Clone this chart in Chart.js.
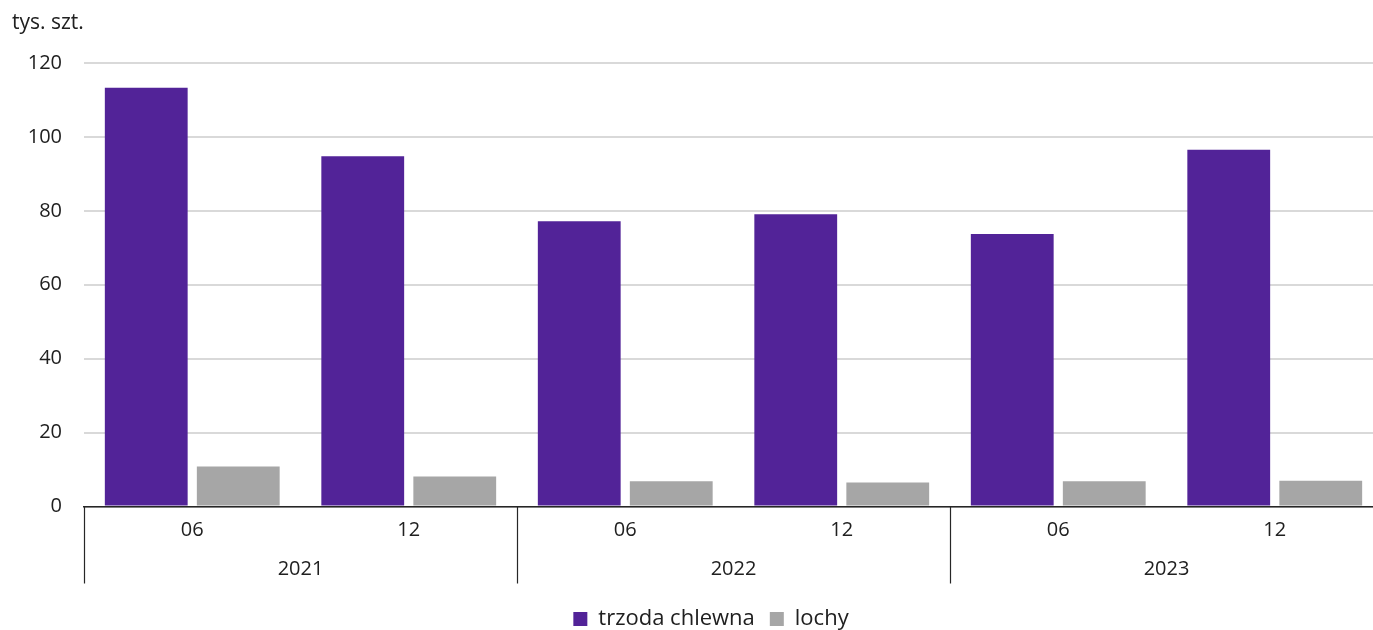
<!DOCTYPE html>
<html lang="pl">
<head>
<meta charset="utf-8">
<script src="https://cdn.jsdelivr.net/npm/chart.js@4"></script>
<style>
  html, body { margin: 0; padding: 0; background: #fff; overflow: hidden; }
  #wrap { position: relative; width: 1422px; height: 630px; }
</style>
</head>
<body>
<div id="wrap"><canvas id="c"></canvas></div>
<script>
'use strict';
// ─── Data ─────────────────────────────────────────────────────────────────────
const months = ['06', '12', '06', '12', '06', '12'];
const years  = ['2021', '2022', '2023'];
const trzoda = [113.3, 94.8, 77.2, 79.1, 73.7, 96.5];
const lochy  = [10.8, 8.1, 6.8, 6.5, 6.8, 7.0];
const yTicks = [0, 20, 40, 60, 80, 100, 120];
const unit   = 'tys. szt.';

const FONT = '"Open Sans", "Noto Sans", sans-serif';
const TXT = '#202020';

// ─── Unit label, year row + group separators ──────────────────────────────────
const extras = {
  id: 'extras',
  afterDraw(chart) {
    const { ctx, chartArea, scales: { x } } = chart;
    const half = (x.getPixelForValue(1) - x.getPixelForValue(0)) / 2;
    const per = months.length / years.length;
    ctx.save();
    ctx.fillStyle = TXT;
    ctx.font = '21px ' + FONT;
    ctx.textAlign = 'left';
    ctx.textBaseline = 'middle';
    ctx.fillText(unit, 12, 23);

    ctx.strokeStyle = '#262626';
    ctx.lineWidth = 1.2;
    for (let i = 0; i <= years.length; i++) {
      const px = Math.round(i < years.length
        ? x.getPixelForValue(i * per) - half
        : x.getPixelForValue(months.length - 1) + half) + 0.5;
      ctx.beginPath();
      ctx.moveTo(px, chartArea.bottom);
      ctx.lineTo(px, chartArea.bottom + 77);
      ctx.stroke();
    }
    ctx.font = '20px ' + FONT;
    ctx.textAlign = 'center';
    years.forEach((yr, i) => {
      const a = x.getPixelForValue(i * per), b = x.getPixelForValue(i * per + per - 1);
      ctx.fillText(yr, (a + b) / 2, chartArea.bottom + 63);
    });
    ctx.restore();
  }
};

new Chart(document.getElementById('c'), {
  type: 'bar',
  data: {
    labels: months,
    datasets: [
      { label: 'trzoda chlewna', data: trzoda, backgroundColor: '#522398', borderWidth: 0 },
      { label: 'lochy', data: lochy, backgroundColor: '#a6a6a6', borderWidth: 0 }
    ]
  },
  options: {
    responsive: true, maintainAspectRatio: false, animation: false,
    layout: { padding: { left: 0, right: 0, top: 63, bottom: -10 } },
    datasets: { bar: { categoryPercentage: 0.85, barPercentage: 0.9 } },
    scales: {
      x: {
        grid: { display: false },
        border: { display: true, color: '#262626', width: 1.5 },
        ticks: { color: TXT, font: { family: FONT, size: 20 }, padding: 4 },
        afterFit: s => { s.height = 86.5; }
      },
      y: {
        min: 0, max: 120,
        afterBuildTicks: s => { s.ticks = yTicks.map(v => ({ value: v })); },
        grid: { color: '#d9d9d9', lineWidth: 2, drawTicks: false },
        border: { display: false },
        ticks: { color: TXT, font: { family: FONT, size: 20 }, padding: 22 },
        afterFit: s => { s.width = 84; }
      },
      yr: {
        position: 'right', min: 0, max: 120,
        grid: { display: false }, border: { display: false }, ticks: { display: false },
        afterFit: s => { s.width = 39; }
      }
    },
    plugins: {
      legend: {
        position: 'bottom',
        labels: { color: TXT, font: { family: FONT, size: 22 }, boxWidth: 14, boxHeight: 14, padding: 15 }
      },
      tooltip: { enabled: false }
    }
  },
  plugins: [extras]
});
</script>
</body>
</html>
